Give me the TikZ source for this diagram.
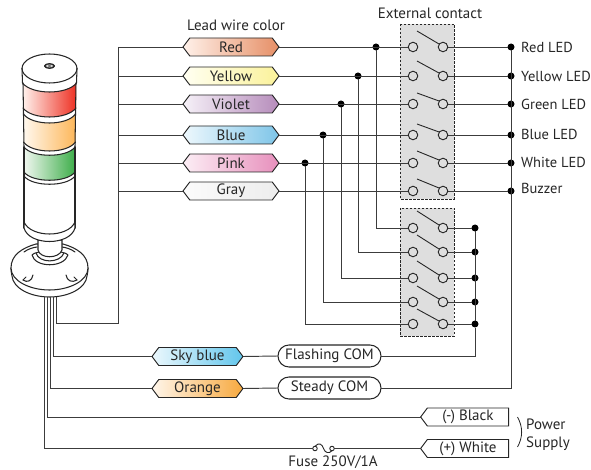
\documentclass[tikz,border=0pt]{standalone}
\usepackage{fontspec}
\setmainfont{PT Sans}
\usetikzlibrary{shapes.symbols,shapes.misc}
\definecolor{ink}{HTML}{262626}
\definecolor{wire}{HTML}{3C3C3C}
\tikzset{
  txt/.style={font=\fontsize{15}{17}\selectfont,text=ink,inner sep=0pt},
  rtxt/.style={font=\fontsize{14.5}{17}\selectfont,text=ink,inner sep=0pt,anchor=west},
  hex/.style={signal,signal to=west and east,signal pointer angle=106,draw=ink,line width=0.95pt,
    minimum width=96,minimum height=18,inner sep=0pt,outer sep=0pt,font=\fontsize{15}{17}\selectfont,text=ink},
  hexs/.style={hex,minimum width=91},
  tag/.style={signal,signal to=west,signal from=nowhere,signal pointer angle=106,draw=ink,line width=0.95pt,
    minimum width=88,minimum height=18,inner sep=0pt,outer sep=0pt,font=\fontsize{15}{17}\selectfont,text=ink,fill=white},
  com/.style={rounded rectangle,draw=ink,line width=1.05pt,minimum width=103,minimum height=22,inner sep=0pt,outer sep=0pt,
    font=\fontsize{15}{17}\selectfont,text=ink,fill=white},
  cont/.style={circle,draw=ink,line width=0.95pt,fill=none,minimum size=9.5,inner sep=0pt,outer sep=0pt},
  dot/.style={circle,fill=black,minimum size=7,inner sep=0pt,outer sep=0pt},
  wr/.style={draw=wire,line width=0.95pt},
  arm/.style={draw=ink,line width=0.9pt},
  cbox/.style={fill=black!13,draw=ink,line width=0.8pt,dash pattern=on 2.5pt off 1.5pt},
  lamp/.style={draw=ink,line width=1.05pt,line cap=round,line join=round}
}
\begin{document}
\begin{tikzpicture}[x=1pt,y=-1pt]
\useasboundingbox (0,0) rectangle (591,470);
% contact boxes
\path[cbox] (400,24) rectangle (454,199);
\path[cbox] (400,208) rectangle (454,336);
\node[txt] at (236,25) {Lead wire color};
\node[txt] at (430,13) {External contact};
% lamp
\definecolor{r1}{HTML}{FFF1EC}\definecolor{r2}{HTML}{EE3124}
\definecolor{y1}{HTML}{FFF8EE}\definecolor{y2}{HTML}{FDB75A}
\definecolor{g1}{HTML}{F0F7F0}\definecolor{g2}{HTML}{3EAE4A}
\shade[left color=r1,right color=r2] (23,83) .. controls (32,95) and (67,95) .. (76,83) -- (76,108) .. controls (67,120) and (32,120) .. (23,108) -- cycle;
\shade[left color=y1,right color=y2] (23.5,114) .. controls (32,126) and (67,126) .. (75.5,114) -- (75.5,142) .. controls (67,154) and (32,154) .. (23.5,142) -- cycle;
\shade[left color=g1,right color=g2] (24,147) .. controls (32,158) and (67,158) .. (75,147) -- (75,172) .. controls (67,183) and (32,183) .. (24,172) -- cycle;
\draw[lamp] (49.5,68.5) ellipse [x radius=27.5,y radius=14.5];
\draw[lamp] (22,68.5) -- (22.5,83) .. controls (32,95) and (67,95) .. (76.5,83) -- (77,68.5);
\draw[lamp,fill=ink] (49.5,66) ellipse [x radius=5,y radius=2.4];
\draw[white,line width=0.7pt] (49.5,66) ellipse [x radius=3,y radius=1];
\draw[lamp] (23,83) -- (23.5,114) (76,83) -- (75.5,114);
\draw[lamp] (23,108) .. controls (32,120) and (67,120) .. (76,108);
\draw[lamp] (23.5,114) .. controls (32,126) and (67,126) .. (75.5,114);
\draw[lamp] (23.5,114) -- (24,147) (75.5,114) -- (75,147);
\draw[lamp] (23.5,142) .. controls (32,154) and (67,154) .. (75.5,142);
\draw[lamp] (24,147) .. controls (32,158) and (67,158) .. (75,147);
\draw[lamp] (24,172) .. controls (32,183) and (67,183) .. (75,172);
\draw[lamp] (24,176) .. controls (32,187) and (67,187) .. (75,176);
\draw[lamp] (24,147) -- (24,228) (75,147) -- (75,228);
% base
\draw[lamp,fill=white] (11,268) .. controls (11,275) and (12,272) .. (12,276) .. controls (13,288) and (30,297) .. (49.5,297) .. controls (69,297) and (86,288) .. (87,276) .. controls (87,272) and (88,275) .. (88,268) -- cycle;
\draw[lamp,fill=white] (11,268) .. controls (11,255) and (22,248) .. (36,244) -- (63,244) .. controls (77,248) and (88,255) .. (88,268) .. controls (88,281) and (69,290) .. (49.5,290) .. controls (30,290) and (11,281) .. (11,268) -- cycle;
\draw[lamp] (24,252) .. controls (28,249) and (33,247.5) .. (37,247);
\draw[lamp] (75,252) .. controls (71,249) and (66,247.5) .. (62,247);
\draw[lamp,fill=white] (32,255) .. controls (35,268) and (64,268) .. (68,255) .. controls (65,250) and (35,250) .. (32,255) -- cycle;
\draw[lamp] (36,253) .. controls (39,263.5) and (60,263.5) .. (64,253);
\draw[lamp,fill=white] (38,240) -- (38,250) .. controls (40,259) and (59,259) .. (62,250) -- (62,240) -- cycle;
% lamp bottom, over the neck
\draw[lamp,fill=white] (24,222) -- (24,228) .. controls (29,246) and (70,246) .. (75,228) -- (75,222) .. controls (68,238) and (31,238) .. (24,222) -- cycle;
\draw[lamp] (23,280) .. controls (27,283) and (32,281) .. (33,275);
\draw[lamp] (23,280) -- (26,277);
\draw[lamp] (66,275) .. controls (67,281) and (72,283) .. (77,280);
\draw[lamp] (77,280) -- (74,277);
% left-hand lead wires and labels
\foreach \n/\y/\t/\lc/\rc in {
  a/47/Red/FFF1EA/E68F66,
  b/76/Yellow/FFFFF2/FBF29A,
  c/104/Violet/F6F1F8/B68CBB,
  d/135/Blue/EEF8FD/7EC5E8,
  e/163/Pink/FCEEF5/E78FBC,
  f/191/Gray/FBFBFB/EDEDED}{
  \definecolor{lc}{HTML}{\lc}\definecolor{rc}{HTML}{\rc}
  \node[hex,left color=lc,right color=rc] (h\n) at (231,\y) {\t};
  \coordinate (t\n) at (118,\y);
  \node[cont] (l\n) at (413,\y) {};
  \node[cont] (r\n) at (443,\y) {};
  \node[dot] (o\n) at (511,\y) {};
  \draw[wr] (t\n) -- (h\n.west);
  \draw[wr] (r\n) -- (o\n);
}
\foreach \n/\x in {a/376,b/358,c/341,d/323,e/305}{
  \node[dot] (j\n) at (\x,0 |- h\n) {};
}
\draw[wr] (ha.east) -- (la);
\draw[wr] (hb.east) -- (lb);
\draw[wr] (hc.east) -- (lc);
\draw[wr] (hd.east) -- (ld);
\draw[wr] (he.east) -- (le);
\draw[wr] (hf.east) -- (lf);
% lower switches
\foreach \n/\y in {a/228,b/252,c/278,d/302,e/324}{
  \node[cont] (m\n) at (413,\y) {};
  \node[cont] (s\n) at (443,\y) {};
  \node[dot] (q\n) at (475,\y) {};
  \draw[wr] (j\n) |- (m\n);
  \draw[wr] (s\n) -- (q\n);
}
% switch arms
\foreach \y/\u in {47/16,76/15,104/11,135/11,163/12,191/12,228/17,252/17,278/17,302/16,324/15}{
  \draw[arm] (417,\y-\u) -- (439,\y-3);
}
% bus lines
\coordinate (x1) at (56,297);
\coordinate (x1b) at (56,323);
\coordinate (x1c) at (118,323);
\draw[wr] (ta) -- (x1c) -- (x1b) -- (x1);
% COM
\node[com] (fc) at (329.5,356) {Flashing COM};
\node[com] (sc) at (329.5,388) {Steady COM};
\definecolor{skl}{HTML}{ECF8FD}\definecolor{skr}{HTML}{62C6EC}
\node[hexs,left color=skl,right color=skr] (sk) at (197.5,356.5) {Sky blue};
\definecolor{orr}{HTML}{F7A93F}\definecolor{orl}{HTML}{FFF6EB}
\node[hexs,left color=orl,right color=orr] (ot) at (197.5,388.5) {Orange};
\coordinate (x2) at (53,297); \coordinate (x3) at (50,297); \coordinate (x4) at (47,297); \coordinate (x5) at (44,297);
\draw[wr] (x2) |- (sk.west);
\draw[wr] (x3) |- (ot.west);
\draw[wr] (sk.east) -- (fc.west);
\draw[wr] (ot.east) -- (sc.west);
\draw[wr] (fc.east) -| (qe);
\draw[wr] (qa) -- (qe);
\draw[wr] (sc.east) -| (oa);
% power
\node[tag] (bk) at (468,417) {(-) Black};
\node[tag] (wh) at (468,448.5) {(+) White};
\draw[wr] (x4) |- (bk.west);
\node[circle,draw=ink,line width=0.9pt,minimum size=4.5,inner sep=0pt,outer sep=0pt] (fa) at (315,448.5) {};
\node[circle,draw=ink,line width=0.9pt,minimum size=4.5,inner sep=0pt,outer sep=0pt] (fb) at (332,448.5) {};
\draw[wr] (x5) |- (fa);
\draw[wr] (fb) -- (wh.west);
\draw[draw=ink,line width=0.9pt] (fa.north) .. controls (319,442) and (322,444) .. (323.5,448.5) .. controls (325,453) and (329,454) .. (fb.south);
\node[txt] at (333,462) {Fuse 250V/1A};
\draw[draw=ink,line width=0.8pt] (517.5,417) .. controls (523,427) and (523,437) .. (517.5,447);
% right labels
\node[rtxt] at (521,47) {Red LED};
\node[rtxt] at (521,76) {Yellow LED};
\node[rtxt] at (521,104.5) {Green LED};
\node[rtxt] at (521,134) {Blue LED};
\node[rtxt] at (521,162) {White LED};
\node[rtxt] at (521,188) {Buzzer};
\node[txt,anchor=west] at (526,424) {Power};
\node[txt,anchor=west] at (526,444) {Supply};
\end{tikzpicture}
\end{document}
